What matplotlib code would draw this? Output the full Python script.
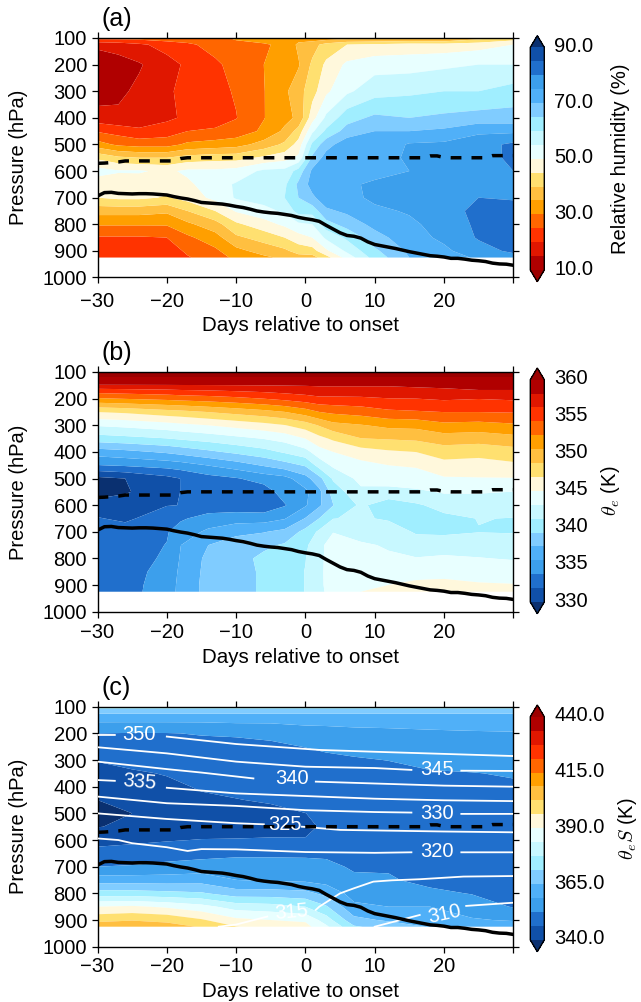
import numpy as np
import matplotlib
matplotlib.use('Agg')
import matplotlib.pyplot as plt
from matplotlib.colors import ListedColormap
from matplotlib.transforms import ScaledTranslation

plt.rcParams['font.family'] = ['Liberation Sans', 'DejaVu Sans']
plt.rcParams['mathtext.fontset'] = 'cm'
nan = np.nan

W, H = 641.0, 1002.0

# shared colours, dark red -> dark blue
colors = ['#b00000', '#e01700', '#ff3300', '#ff6600', '#ff9f00', '#ffbf40', '#ffe070', '#fff8dc',
          '#e8ffff', '#c8f8ff', '#a0eeff', '#80ccff', '#50b0f8', '#3c9fec', '#206fcc', '#1050a8']
red_end = '#9c0000'
blue_end = '#0a3070'

# onset lines
days = np.arange(-30, 31)
solid_p = [694, 681, 680, 684, 685, 686, 685, 685, 686, 688, 690, 696, 701, 705, 711, 718, 720, 722, 724, 728,
           733, 737, 743, 750, 754, 757, 759, 763, 767, 774, 779, 783, 789, 804, 818, 832, 842, 845, 852, 866,
           876, 881, 886, 891, 897, 903, 908, 913, 918, 920, 923, 928, 928, 931, 935, 937, 940, 946, 949, 950, 954]
dash_p = [571, 570, 568, 566, 562, 562, 562, 562, 562, 562, 562, 562, 553, 550, 550, 550, 550, 550, 550, 550,
          550, 550, 550, 550, 550, 550, 550, 550, 550, 550, 550, 550, 550, 550, 550, 550, 550, 550, 550, 550,
          550, 550, 550, 550, 550, 550, 550, 550, 543, 543, 549, 550, 550, 550, 550, 550, 550, 542, 542, 542, 542]

# (a) relative humidity
rh_days = [-30, -27, -24, -20, -17, -13, -10, -6, -3, -1, 1, 3, 6, 10, 15, 20, 25, 30]
rh_p = [100, 125, 200, 300, 400, 450, 500, 550, 600, 650, 700, 750, 800, 850, 900, 925]
rh = [[27, 16, 12, 12.5, 17, 24.5, 32, 44, 52, 47, 45, 37, 30.5, 24.5, 22, 22],
      [27, 17, 13, 14, 16, 23, 29, 41, 50.5, 47, 46, 37, 30.5, 24.5, 22, 22],
      [27, 19, 14.5, 16, 17, 21, 28, 40, 50.5, 47.5, 46, 37, 30.5, 24.5, 22, 22],
      [28, 22, 18, 19.5, 19, 22.5, 28, 40, 49, 47, 44.5, 36, 30.5, 25, 22, 23],
      [28, 24, 21, 21, 21, 25, 31, 42, 51, 49, 47, 40, 34, 29, 26, 24.5],
      [28, 27, 24, 23.5, 22, 26, 32, 43, 51, 53, 51.5, 45, 38, 33, 29, 28],
      [31, 28, 27, 25.5, 24.8, 27, 33, 43, 52, 55.5, 55.5, 50.5, 44, 39, 33.5, 31],
      [32, 29.5, 30, 29.8, 29.8, 31, 37, 46, 56, 57, 57.5, 53, 48, 42, 37, 34],
      [33, 31, 32, 34, 33.5, 36, 41, 48, 56.5, 59, 60, 56, 51, 45, 39, 36],
      [33, 36, 34.5, 38, 36, 42, 47, 51, 62, 66, 65, 62, 54, 48, 42, 38],
      [32, 38, 41, 43, 48, 54, 61, 66, 71, 72, 69, 62, 55, 50, 43, 38],
      [32, 42, 46, 49, 56, 61, 68, 72, 73, 73.5, 73, 69, 63, 56, 49, 43],
      [33, 45, 51, 54, 63, 67, 73, 73, 73, 74, 73.5, 71, 67, 61, 56, 52],
      [33, 46, 53, 58, 66, 70, 71, 72, 73, 76, 76, 74, 71.5, 68, 64, 62],
      [34, 47, 53, 59, 65, 70, 75.5, 76, 75, 76, 77, 75.5, 74, 73, 71, 70],
      [33, 47, 54, 60, 66, 71, 76, 77, 77, 78, 79, 78.5, 77, 76, 74, 72],
      [38, 48, 55, 60, 67, 74, 78, 78, 78, 79, 80, 81, 81, 80.5, 78, 76],
      [42, 50, 55, 62, 67, 74, 81, 81, 80, 79, 79.5, 82, 82, 81.5, 81, 78]]
rh_levels = [10 + 5 * i for i in range(17)]
rh_ticks = [10, 30, 50, 70, 90]

# (b) theta_e
te_days = [-30, -26, -20, -18, -14, -10, -6, -3, 0, 2, 4, 8, 12, 16, 20, 25, 30]
te_p = [100, 145, 175, 200, 250, 300, 350, 400, 450, 500, 550, 600, 650, 700, 750, 800, 850, 900, 925]
te = [[361, 358.5, 354.8, 352.3, 346.9, 343.3, 340.4, 336.6, 333.7, 329.5, 329.2, 330.8, 332, 332.8, 333, 333, 333, 333, 333.2],
      [361, 358.5, 355, 352.6, 347.2, 343.6, 340.7, 337, 334, 330, 329.8, 331, 331.5, 332.8, 333, 333, 333, 333, 333],
      [361, 358.5, 355.3, 353, 348, 344.2, 341.2, 337.8, 334.5, 331.3, 331.2, 331.8, 333, 333.6, 333.8, 334, 334.4, 334.7, 334.8],
      [361, 358.5, 355.5, 353.2, 348.2, 344.5, 341.5, 338.2, 334.8, 331.9, 331.9, 331.9, 333.5, 334.6, 335.6, 335.8, 336, 336.1, 336.1],
      [361, 358.5, 355.7, 353.5, 348.8, 345, 342, 339, 335.7, 333, 332.5, 332.6, 334.5, 336, 337.5, 338, 338.1, 338.2, 338.2],
      [361, 358.5, 356, 353.9, 349.4, 345.6, 342.6, 339.8, 336.6, 333.6, 332.6, 332.6, 334.8, 337, 338.5, 338.7, 338.8, 338.8, 338.8],
      [361, 358.5, 356.3, 354.4, 350, 346.2, 343.2, 340.6, 337.7, 334.5, 332.8, 332.4, 334.8, 337.4, 339, 339.8, 339.6, 339.6, 339.6],
      [361, 358.5, 356.6, 354.9, 350.6, 346.8, 343.8, 341.5, 338.6, 335, 334.6, 333.6, 335.5, 338, 339.6, 340.5, 340.5, 340.5, 340.4],
      [361, 358.5, 356.9, 355.4, 351.6, 347.8, 345, 342.5, 339.6, 336.8, 335.2, 335.4, 337.6, 340, 341, 341.2, 341.3, 341.3, 341.3],
      [361, 358.5, 357.2, 355.8, 352.5, 348.9, 346.3, 344.2, 342, 338.8, 337, 337.2, 339.4, 341.6, 342.2, 342.4, 342.5, 342.5, 342.3],
      [361, 358.5, 357.2, 355.8, 352.9, 350, 347.2, 345, 343.5, 341.5, 340.2, 339.3, 341.2, 343, 344.8, 344.6, 344.6, 344.5, 344.5],
      [361, 358.5, 357.2, 355.9, 353.3, 350.5, 348.7, 346, 344.4, 343.7, 342.7, 341.6, 341.5, 342.6, 343.3, 344.2, 344.8, 345, 345],
      [361, 358.5, 357.2, 356.2, 354, 351.1, 348.9, 346.6, 345, 344, 342.5, 340.2, 341, 342.4, 343, 343.3, 344, 345, 345.3],
      [361, 358.5, 357.6, 356.25, 354.2, 351.2, 349.1, 346.9, 345.2, 344.2, 342.8, 341, 340.8, 341, 342.3, 343.2, 344, 345.6, 346],
      [361, 358.5, 357.8, 356.5, 354.4, 352, 349.7, 347.8, 346.2, 344.8, 343.3, 341.9, 340.8, 341, 342, 343.5, 344.3, 345.6, 346.5],
      [361, 358.5, 358, 356.3, 354.4, 351.8, 349.5, 347.6, 346, 344.9, 343.3, 342, 341.3, 341.2, 342.3, 343.2, 344.2, 345.2, 346.2],
      [361, 358.5, 358, 356.5, 354.5, 352.2, 350, 348, 346.5, 344.9, 343.1, 342, 341.2, 341.1, 342.4, 343, 344, 345.1, 346]]
te_levels = [330 + 1.875 * i for i in range(17)]
te_ticks = [330, 335, 340, 345, 350, 355, 360]

# (c) saturation theta_e
ts_days = [-30, -25, -20, -15, -10, -5, 0, 3, 7, 12, 18, 24, 30]
ts_p = [100, 115, 130, 150, 200, 250, 300, 350, 400, 450, 500, 550, 600, 650, 700, 750, 800, 850, 900, 925]
ts = [[375, 368, 364, 360, 352.5, 349.5, 346.6, 344, 342, 340, 339, 339.8, 344, 348.5, 352.5, 362, 374, 390, 401, 406],
      [375, 368, 364, 360, 352.2, 349.3, 348, 345.5, 342.6, 341, 340, 341, 345, 349, 353, 362, 374, 391, 402, 408],
      [375, 368, 364, 360, 352.3, 349.5, 348.2, 346.6, 345, 341.8, 341.2, 342, 345.8, 350, 354, 362, 373, 389, 401, 405],
      [375, 368, 364, 360, 352.8, 351, 349.5, 348, 346.8, 345.3, 342.5, 343, 346.5, 350.5, 355, 362.5, 372, 386, 397, 402],
      [375, 368, 364, 360.5, 353, 351.3, 350, 349, 348, 346, 343.5, 343.5, 346.6, 351, 356, 358.8, 368, 381, 391.5, 396.5],
      [375, 368, 364, 360.5, 353.5, 351.7, 350.5, 349.7, 349, 347, 344.5, 344, 346.8, 351, 356, 358, 368, 380, 390, 394],
      [375, 368, 364, 361, 355.5, 352.6, 351, 350.3, 349.7, 348, 346.2, 345.3, 346.5, 351, 355.5, 357.5, 367, 377.5, 389, 392],
      [375, 368, 364, 361, 356, 353.2, 351.6, 351, 350, 349, 347.5, 347, 348, 351, 354.5, 356.5, 363, 372, 380.5, 385],
      [375, 368, 364, 361.5, 356.5, 354, 352, 351, 350, 349, 348, 347.5, 348.5, 350.5, 351.5, 354, 356.5, 360, 367, 372],
      [375, 368, 364, 361.5, 357, 354.8, 352.6, 351, 350, 349, 348.5, 348, 348.5, 349.8, 352, 353, 355.5, 358.75, 364, 369],
      [375, 368, 364, 362, 357.5, 355.6, 354, 352, 350, 349.2, 348.6, 348.2, 348.4, 349.2, 350.6, 351.2, 353.5, 358.75, 363, 364.5],
      [375, 368, 364, 362, 358, 356.5, 354.8, 352.3, 350.5, 349.5, 349, 348.5, 348.5, 349, 350, 351, 352.3, 355, 359.5, 363],
      [375, 368, 364, 362.5, 358.2, 357, 355, 353, 351.7, 350, 349.5, 349, 348.8, 349, 349.8, 350.3, 350.8, 352.2, 358, 363]]
ts_levels = [340 + 6.25 * i for i in range(17)]
ts_ticks = [340, 365, 390, 415, 440]

# white contours in (c), gaps (nan) where the labels sit
c350_d = [-30, -27.5, nan, -20, -10, 2, 10, 20, 30]
c350_p = [206, 206, nan, 212, 240, 262, 269, 277, 285]
c345_d = [-30, -20, -10, 0, 10, 15.3, nan, 22.5, 30]
c345_p = [252, 275, 306, 325, 330, 337, nan, 340, 341]
c340_d = [-30, -20, -15, -7.5, nan, 1.5, 10, 20, 30]
c340_p = [306, 334, 347, 369, nan, 381, 388, 396, 400]
c335_d = [-30, -27.5, nan, -20, -10, 0, 10, 20, 30]
c335_p = [375, 378, nan, 404, 425, 435, 445, 451, 454]
c330_d = [-30, -20, -10, 0, 10, 15.3, nan, 22.5, 30]
c330_p = [437, 462, 472, 488, 495, 497, nan, 502, 502]
c325_d = [-30, -20, -10, -6, nan, -0.5, 5, 10, 20, 30]
c325_p = [500, 521, 537, 541, nan, 550, 562, 564, 568, 571]
c320_d = [-30, -27, -25, -22, -20, -17, -15, -10, 0, 10, 15.3, nan, 22.5, 30]
c320_p = [594, 600, 612, 621, 627, 641, 634, 635, 645, 648, 646, nan, 646, 646]
c315_d = [-12.5, -10, -5.5, nan, 1.5, 2, 5, 7, 9.8, 12.5, 16.5, 22.8, 30]
c315_p = [925, 917, 887, nan, 862, 850, 800, 781, 756, 751, 747, 737, 735]
c310_d = [10, 16.5, nan, 23.2, 30]
c310_p = [925, 881, nan, 847, 835]
contour_lines = [(c350_d, c350_p), (c345_d, c345_p), (c340_d, c340_p), (c335_d, c335_p), (c330_d, c330_p),
                 (c325_d, c325_p), (c320_d, c320_p), (c315_d, c315_p), (c310_d, c310_p)]
contour_text = ['350', '335', '340', '345', '330', '325', '320', '315', '310']
contour_x = [-24, -24, -2, 19, 19, -3, 19, -2, 20]
contour_y = [203, 381, 369, 334, 500, 543, 644, 869, 877]
contour_rot = [0, -5, 0, 0, 0, 0, 0, 5, 12]


def box(x0, x1, top, bottom):
    return [x0 / W, 1 - bottom / H, (x1 - x0) / W, (bottom - top) / H]


def panel(top, bottom, cb_top, cb_bottom, x, y, z, levels, cm, ticks, fmt, letter, cb_label, labelpad, xpad, xlab_off):
    ax = fig.add_axes(box(97.5, 513.3, top, bottom))
    cs = ax.contourf(x, y, np.array(z).T, levels=levels, cmap=cm, extend='both', antialiased=True)
    ax.plot(days, solid_p, color='k', lw=2.5, zorder=5)
    ax.plot(days, dash_p, color='k', lw=2.5, ls=(0, (3.1, 2.9)), zorder=5)
    ax.set_xlim(-30, 30)
    ax.set_ylim(1000, 100)
    ax.set_xticks(range(-30, 31, 10))
    ax.set_xticklabels(['\u221230', '\u221220', '\u221210', '0', '10', '20', ''])
    ax.set_yticks(range(100, 1001, 100))
    ax.tick_params(direction='out', length=4.5, width=0.9, labelsize=14.5, top=True, right=True, pad=3)
    ax.tick_params(axis='x', pad=xpad)
    for s in ax.spines.values():
        s.set_linewidth(1.0)
    ax.set_xlabel('Days relative to onset', fontsize=14.8, va='center')
    ax.xaxis.set_label_coords(0.488, -xlab_off / (bottom - top))
    ax.set_ylabel('Pressure (hPa)', fontsize=14.5)
    ax.yaxis.set_label_coords(-0.168, 0.5)
    ax.text(0.01, 1.03, letter, transform=ax.transAxes, fontsize=18, va='bottom')
    cax = fig.add_axes(box(530.3, 544.3, cb_top, cb_bottom))
    cb = fig.colorbar(cs, cax=cax, extend='both', extendfrac=0.0525, drawedges=False)
    cb.set_ticks(ticks)
    cb.set_ticklabels([fmt % t for t in ticks])
    cb.ax.tick_params(length=0, labelsize=14.5, pad=7)
    cb.ax.minorticks_off()
    # labels sit a little above their levels in the original
    for lab in cb.ax.get_yticklabels():
        lab.set_transform(lab.get_transform() + ScaledTranslation(0, 0.03, fig.dpi_scale_trans))
    cb.outline.set_linewidth(1.0)
    cb.set_label(cb_label, fontsize=14.5, labelpad=labelpad)
    return ax


fig = plt.figure(figsize=(W / 100, H / 100), dpi=100)

cm_a = ListedColormap(colors)
cm_a.set_under(red_end)
cm_a.set_over(blue_end)
cm_b = ListedColormap(colors[::-1])
cm_b.set_under(blue_end)
cm_b.set_over(red_end)

panel(38, 277.5, 35.7, 281.7, rh_days, rh_p, rh, rh_levels, cm_a, rh_ticks, '%.1f', '(a)',
      'Relative humidity (%)', 13, 6.3, 48.5)
panel(372, 611.7, 368, 613.7, te_days, te_p, te, te_levels, cm_b, te_ticks, '%d', '(b)',
      r'$\theta_e$ (K)', 8, 3.9, 45.6)
ax3 = panel(706.7, 946.7, 705, 951.7, ts_days, ts_p, ts, ts_levels, cm_b, ts_ticks, '%.1f', '(c)',
            r'$\theta_e S$ (K)', 8, 3.2, 45)

for d, p in contour_lines:
    ax3.plot(d, p, color='w', lw=1.3, zorder=4)
for t, x, y, r in zip(contour_text, contour_x, contour_y, contour_rot):
    ax3.text(x, y, t, color='w', fontsize=14.5, ha='center', va='center', rotation=r, zorder=6)

plt.savefig('out.png', dpi=100)
